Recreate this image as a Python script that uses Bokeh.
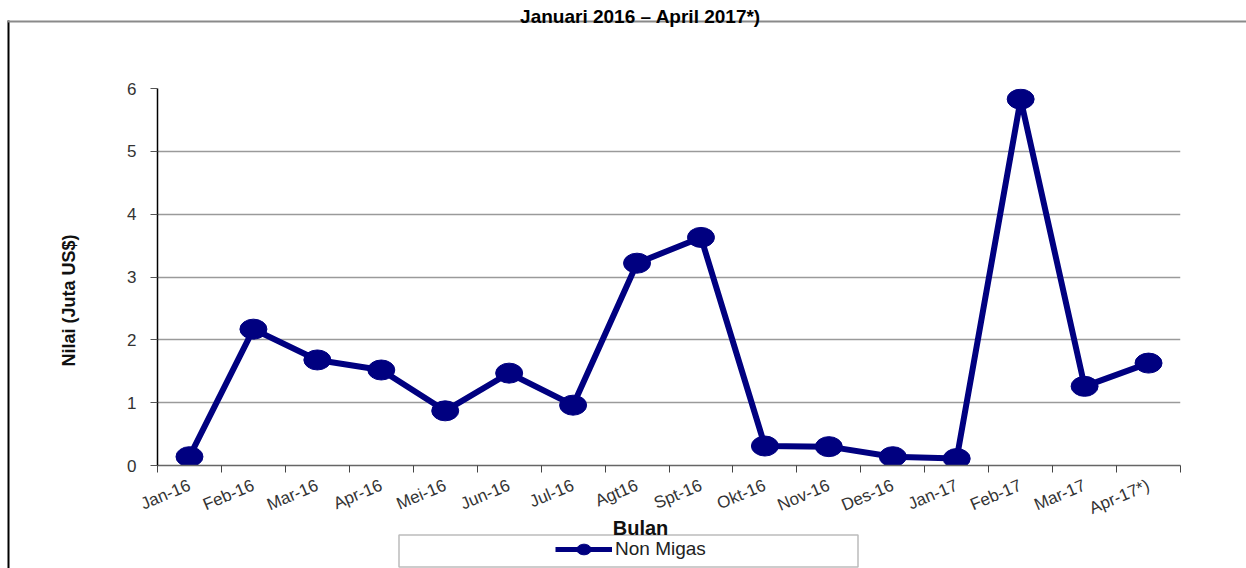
import math
from bokeh.plotting import figure
from bokeh.models import (Range1d, FixedTicker, BoxAnnotation, Label, Legend, LegendItem,
                          ColumnDataSource)
from bokeh.embed import file_html
from bokeh.resources import INLINE

# ---------------- data ----------------
months = ["Jan-16", "Feb-16", "Mar-16", "Apr-16", "Mei-16", "Jun-16", "Jul-16", "Agt16",
          "Spt-16", "Okt-16", "Nov-16", "Des-16", "Jan-17", "Feb-17", "Mar-17", "Apr-17*)"]
non_migas = [0.14, 2.17, 1.68, 1.52, 0.87, 1.47, 0.96, 3.22,
             3.63, 0.31, 0.30, 0.14, 0.11, 5.83, 1.26, 1.63]
y_ticks = [0, 1, 2, 3, 4, 5, 6]
title_text = "Januari 2016 \u2013 April 2017*)"
y_title = "Nilai (Juta US$)"
x_title = "Bulan"
series_name = "Non Migas"

FONT = "Liberation Sans"
NAVY = "#000080"
W, H = 1246, 568

centers = [i + 0.5 for i in range(len(months))]
bounds = list(range(len(months) + 1))
src = ColumnDataSource(dict(x=centers, y=non_migas, m=months))

# ---------------- background layer: chart box, titles, legend ----------------
bg = figure(width=W, height=H, output_backend="svg", toolbar_location=None,
            x_range=Range1d(0, W), y_range=Range1d(H, 0),
            x_axis_location=None, y_axis_location=None, min_border=0)
bg.grid.visible = False
bg.outline_line_color = None
bg.background_fill_color = "white"
bg.border_fill_color = "white"

bg.add_layout(BoxAnnotation(left=7, right=9, top=20, bottom=H, fill_color="black",
                            fill_alpha=1, line_color=None))
bg.add_layout(BoxAnnotation(left=7, right=W, top=20, bottom=22, fill_color="#8a8a8a",
                            fill_alpha=1, line_color=None))
bg.add_layout(BoxAnnotation(left=398.5, right=857.5, top=534.5, bottom=566.5, fill_alpha=0,
                            line_color="#222222", line_width=1.5))

bg.add_layout(Label(x=640, y=16, text=title_text, text_font=FONT, text_font_style="bold",
                    text_font_size="19px", text_color="black", text_align="center",
                    text_baseline="alphabetic"))
bg.add_layout(Label(x=68, y=300, text=y_title, angle=math.pi / 2, text_font=FONT,
                    text_font_style="bold", text_font_size="18px", text_color="#111111",
                    text_align="center", text_baseline="middle"))
bg.add_layout(Label(x=640, y=527, text=x_title, text_font=FONT, text_font_style="bold",
                    text_font_size="20px", text_color="#111111", text_align="center",
                    text_baseline="alphabetic"))

# legend swatches: the series drawn on a range that keeps it out of view here
bg.extra_x_ranges = {"swatch": Range1d(1000, 1001)}
bg.extra_y_ranges = {"swatch": Range1d(1000, 1001)}
leg_line = bg.line("x", "y", source=src, x_range_name="swatch", y_range_name="swatch",
                   line_color=NAVY, line_width=5)
leg_mark = bg.ellipse("x", "y", width=27, height=20, width_units="screen",
                      height_units="screen", source=src, x_range_name="swatch",
                      y_range_name="swatch", fill_color=NAVY, line_color=NAVY)
legend = Legend(items=[LegendItem(label=series_name, renderers=[leg_line, leg_mark])],
                location=(555, 8), glyph_width=57, glyph_height=18, label_height=20,
                label_standoff=3, label_text_font=FONT, label_text_font_size="19px",
                label_text_color="#222222", label_text_baseline="middle",
                border_line_color=None, background_fill_alpha=0, padding=0, margin=0, spacing=0)
bg.add_layout(legend, "center")

# ---------------- chart layer (transparent, drawn on top) ----------------
p = figure(width=W, height=H, output_backend="svg", toolbar_location=None,
           x_range=Range1d(0, len(months)), y_range=Range1d(0, 6),
           min_border_left=157, min_border_right=66, min_border_top=88, min_border_bottom=103,
           margin=(-H, 0, 0, 0))
p.outline_line_color = None
p.background_fill_alpha = 0
p.border_fill_alpha = 0

p.xgrid.visible = False
p.ygrid.ticker = FixedTicker(ticks=y_ticks)
p.ygrid.grid_line_color = "#9a9a9a"
p.ygrid.grid_line_width = 1.5

p.yaxis.ticker = FixedTicker(ticks=y_ticks)
p.yaxis.axis_line_color = "black"
p.yaxis.axis_line_width = 1.5
p.yaxis.major_tick_line_color = "#555555"
p.yaxis.major_tick_out = 7
p.yaxis.major_tick_in = 0
p.yaxis.minor_tick_line_color = None
p.yaxis.major_label_standoff = 14
p.yaxis.major_label_text_font = FONT
p.yaxis.major_label_text_font_size = "17px"
p.yaxis.major_label_text_color = "#333333"

p.xaxis.ticker = FixedTicker(ticks=centers, minor_ticks=bounds)
p.xaxis.major_label_overrides = {c: m for c, m in zip(centers, months)}
p.xaxis.major_tick_line_color = None
p.xaxis.major_tick_out = 7
p.xaxis.minor_tick_line_color = "#444444"
p.xaxis.minor_tick_out = 7
p.xaxis.minor_tick_in = 0
p.xaxis.axis_line_color = "#666666"
p.xaxis.axis_line_width = 1.5
p.xaxis.major_label_orientation = 0.40
p.xaxis.major_label_standoff = 12
p.xaxis.major_label_text_font = FONT
p.xaxis.major_label_text_font_size = "17px"
p.xaxis.major_label_text_color = "#333333"

p.line("x", "y", source=src, line_color=NAVY, line_width=6)
p.ellipse("x", "y", width=27, height=20, width_units="screen", height_units="screen",
          source=src, fill_color=NAVY, line_color=NAVY)

open("out.html", "w").write(file_html([bg, p], INLINE))
